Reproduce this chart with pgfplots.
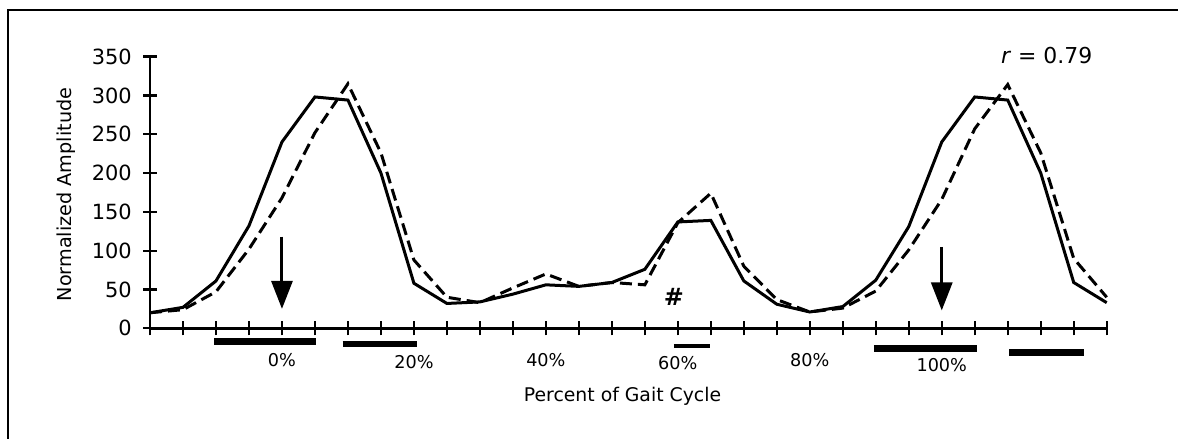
\documentclass[border=0pt]{standalone}
\usepackage{pgfplots}
\pgfplotsset{compat=1.18}
\usepackage{pgfplotstable}
\usepackage{fontspec}
\setmainfont{DejaVu Sans}
\usetikzlibrary{arrows.meta}

\pgfplotstableread{
x solid dashed
-20 20 20
-15 27 24
-10 61 47
-5 132 102
0 240 168
5 298 252
10 294 315
15 200 226
20 58 88
25 32 40
30 34 33
35 44 52
40 56 70
45 54 54
50 59 59
55 76 56
60 137 136
65 139 174
70 61 80
75 31 37
80 21 21
85 28 26
90 62 48
95 131 101
100 240 166
105 298 257
110 294 314
115 200 226
120 59 90
125 33 40
}\gait

\begin{document}
\begin{tikzpicture}
\useasboundingbox (0,0) rectangle (1178bp,439bp);
\draw[line width=2bp] (1190bp,429bp) -- (8bp,429bp) -- (8bp,-10bp);
\begin{axis}[
  at={(150bp,110.7bp)}, anchor=south west, scale only axis,
  width=956.7bp, height=271.7bp,
  xmin=-20, xmax=125, ymin=0, ymax=350,
  enlargelimits=false,
  axis x line=bottom, axis y line=left,
  axis line style={line width=2.6bp,-},
  xtick={-20,-15,...,125}, xticklabel=\empty,
  ytick={0,50,...,350},
  tick align=center, major tick length=14bp,
  every tick/.style={black,line width=2.2bp},
  yticklabel style={font=\fontsize{21}{21}\selectfont, inner sep=0pt, anchor=east, xshift=-11bp},
  /pgf/number format/assume math mode=true,
  clip=false,
  ylabel={Normalized Amplitude},
  ylabel style={at={(axis description cs:-0.0878,0.4925)}, anchor=center, font=\fontsize{19.3}{20}\selectfont},
  xlabel={Percent of Gait Cycle},
  xlabel style={at={(axis description cs:0.4939,-0.2517)}, anchor=center, font=\fontsize{18.9}{20}\selectfont},
]
\addplot[black, line width=3bp] table[x=x,y=solid]{\gait};
\addplot[black, line width=3bp, dash pattern=on 12bp off 6bp] table[x=x,y=dashed]{\gait};
% arrows
\addplot[black, line width=3bp, -{Triangle[length=28bp,width=21bp]}] coordinates {(0,118) (0,25)};
\addplot[black, line width=3bp, -{Triangle[length=28bp,width=21bp]}] coordinates {(100,105) (100,23)};
% bars
\addplot[black, line width=6.5bp] coordinates {(-10.25,-17.3) (5.2,-17.3)};
\addplot[black, line width=6.5bp] coordinates {(9.2,-20.3) (20.4,-20.3)};
\addplot[black, line width=4.5bp] coordinates {(59.4,-22.6) (64.8,-22.6)};
\addplot[black, line width=6.5bp] coordinates {(89.7,-25.8) (105.4,-25.8)};
\addplot[black, line width=6.5bp] coordinates {(110.2,-31) (121.6,-31)};
% tick labels
\begin{scope}[every node/.style={font=\fontsize{17.7}{18}\selectfont, inner sep=0pt}]
\node at (axis cs:0,-40.8) {0\%};
\node at (axis cs:20,-43) {20\%};
\node at (axis cs:40,-40.8) {40\%};
\node at (axis cs:60,-44.7) {60\%};
\node at (axis cs:80,-40.8) {80\%};
\node at (axis cs:100,-47.3) {100\%};
\end{scope}
\node[font=\fontsize{24}{24}\selectfont\bfseries] at (axis cs:59.4,40.7) {\#};
\node[font=\fontsize{22}{22}\selectfont] at (axis cs:115.9,352) {\textit{r} = 0.79};
\end{axis}
\end{tikzpicture}
\end{document}
